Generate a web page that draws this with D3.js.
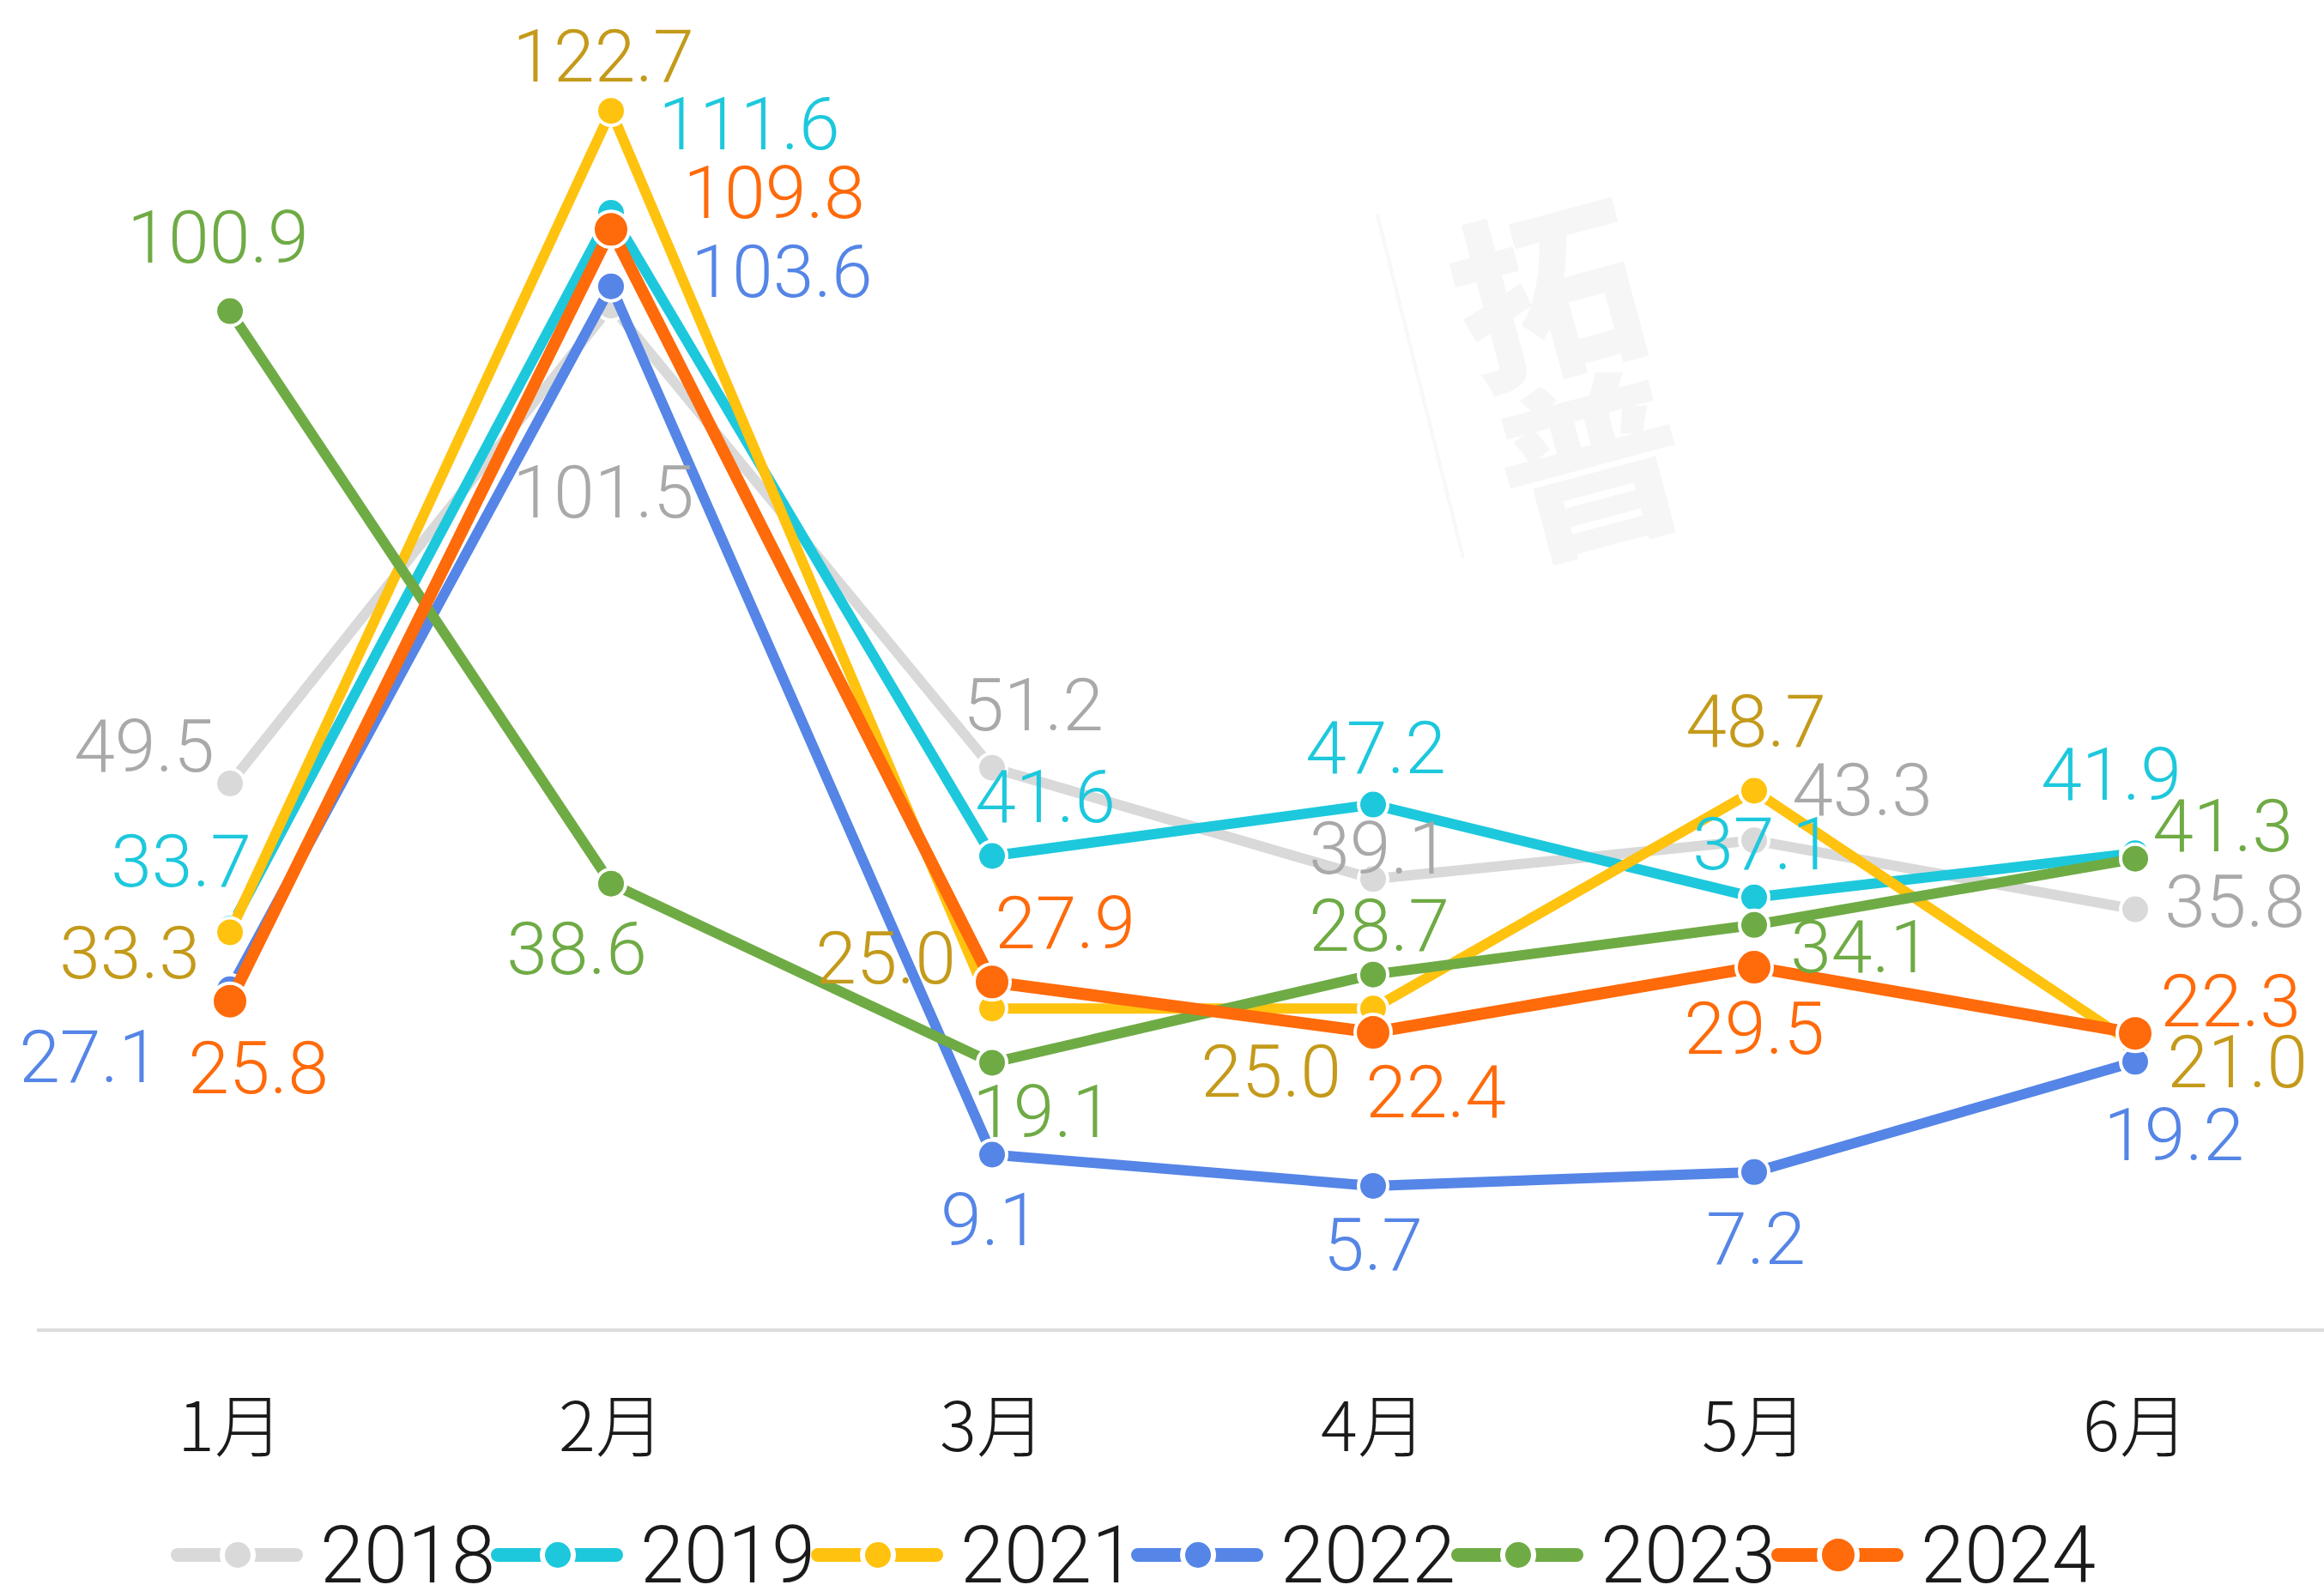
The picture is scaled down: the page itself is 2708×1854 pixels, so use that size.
<!DOCTYPE html>
<html>
<head>
<meta charset="utf-8">
<script src="https://cdn.jsdelivr.net/npm/d3@7"></script>
<style>
  html, body { margin: 0; padding: 0; background: #fff; }
  svg { display: block; }
</style>
</head>
<body>
<svg id="chart" width="2708" height="1854"></svg>
<script>
// data
const months = ["1月", "2月", "3月", "4月", "5月", "6月"];
const years = ["2018", "2019", "2021", "2022", "2023", "2024"];
const v2018 = [49.5, 101.5, 51.2, 39.1, 43.3, 35.8];
const v2019 = [33.7, 111.6, 41.6, 47.2, 37.1, 41.9];
const v2021 = [33.3, 122.7, 25.0, 25.0, 48.7, 21.0];
const v2022 = [27.1, 103.6, 9.1, 5.7, 7.2, 19.2];
const v2023 = [100.9, 38.6, 19.1, 28.7, 34.1, 41.3];
const v2024 = [25.8, 109.8, 27.9, 22.4, 29.5, 22.3];

// styles
const lineColors = ["#d9d9d9", "#1dc8dc", "#ffc20e", "#5585e6", "#6fab45", "#ff6a0a"];
const textColors = ["#a9a9a9", "#1dc8dc", "#c49a1a", "#5585e6", "#6fab45", "#ff6a0a"];
const markerR = [17, 17, 17, 17, 17, 21];
const lineW = [12, 12, 12, 12, 12, 14];

// where each value label sits relative to its point (px)
const labelOffsets = [
  [[-100, -43], [-9, 217], [48, -73], [7, -36], [126, -59], [116, -9]],
  [[-57, -79], [161, -104], [62, -69], [3, -66], [10, -62], [-28, -92]],
  [[-117, 24], [-9, -64], [-124, -59], [-119, 73], [2, -81], [119, 19]],
  [[-164, 79], [199, -17], [-2, 76], [0, 69], [2, 78], [45, 85]],
  [[-14, -86], [-40, 76], [59, 57], [7, -57], [124, 26], [102, -38]],
  [[33, 78], [190, -43], [85, -69], [73, 69], [0, 71], [111, -38]]
];

const seriesValues = [v2018, v2019, v2021, v2022, v2023, v2024];
const series = years.map((name, i) => ({
  name,
  values: seriesValues[i],
  color: lineColors[i],
  text: textColors[i],
  r: markerR[i],
  w: lineW[i],
  offsets: labelOffsets[i]
}));

const width = 2708, height = 1854;
const svg = d3.select("#chart");

const x = d3.scalePoint()
  .domain(months)
  .range([46, 2710])
  .padding(0.5);

const y = d3.scaleLinear()
  .domain([-10, 130])
  .range([1550, 51]);

// faint watermark
const wm = svg.append("g").attr("fill", "#f6f6f6")
  .attr("font-family", "'Noto Sans CJK SC', sans-serif")
  .attr("font-weight", 900)
  .attr("font-size", 215)
  .attr("text-anchor", "middle")
  .attr("dominant-baseline", "central");
wm.append("text").attr("transform", "translate(1800,330) rotate(-15)").text("拓");
wm.append("text").attr("transform", "translate(1852,530) rotate(-15)").text("普");
svg.append("line")
  .attr("x1", 1605).attr("y1", 250).attr("x2", 1705).attr("y2", 650)
  .attr("stroke", "#f8f8f8").attr("stroke-width", 4);

// x axis
const xAxis = d3.axisBottom(x).tickSize(0).tickPadding(0);
const gx = svg.append("g")
  .attr("transform", `translate(0,${y(-10)})`)
  .call(xAxis);
gx.select(".domain").remove();
gx.append("line")
  .attr("x1", 43).attr("x2", width)
  .attr("stroke", "#dcdcdc").attr("stroke-width", 4);
gx.selectAll(".tick text")
  .attr("y", 106)
  .attr("dy", null)
  .attr("dominant-baseline", "central")
  .attr("fill", "#1a1a1a")
  .attr("font-size", 80)
  .attr("font-weight", 300)
  .attr("font-family", "'Noto Sans CJK SC', Roboto, sans-serif");

const line = d3.line()
  .x((d, i) => x(months[i]))
  .y(d => y(d));

const gSeries = svg.append("g").selectAll("g")
  .data(series)
  .join("g");

gSeries.append("path")
  .attr("d", d => line(d.values))
  .attr("fill", "none")
  .attr("stroke", d => d.color)
  .attr("stroke-width", d => d.w)
  .attr("stroke-linejoin", "round");

gSeries.selectAll("circle")
  .data(d => d.values.map((v, i) => ({ v, i, s: d })))
  .join("circle")
  .attr("cx", d => x(months[d.i]))
  .attr("cy", d => y(d.v))
  .attr("r", d => d.s.r)
  .attr("fill", d => d.s.color)
  .attr("stroke", "#fff")
  .attr("stroke-width", 4);

// value labels on top of all lines
svg.append("g")
  .attr("font-family", "Roboto, 'Noto Sans', sans-serif")
  .attr("font-weight", 300)
  .attr("font-size", 86)
  .attr("text-anchor", "middle")
  .selectAll("g")
  .data(series)
  .join("g")
  .attr("fill", d => d.text)
  .selectAll("text")
  .data(d => d.values.map((v, i) => ({ v, i, s: d })))
  .join("text")
  .attr("x", d => x(months[d.i]) + d.s.offsets[d.i][0])
  .attr("y", d => y(d.v) + d.s.offsets[d.i][1])
  .attr("dominant-baseline", "central")
  .text(d => d3.format(".1f")(d.v));

// legend
const legend = svg.append("g").attr("transform", "translate(207,1812)");
const item = legend.selectAll("g")
  .data(series)
  .join("g")
  .attr("transform", (d, i) => `translate(${i * 373},0)`);
item.append("line")
  .attr("x1", 0).attr("x2", 138)
  .attr("stroke", d => d.color)
  .attr("stroke-width", 16)
  .attr("stroke-linecap", "round");
item.append("circle")
  .attr("cx", 70)
  .attr("r", d => d.r + 1)
  .attr("fill", d => d.color)
  .attr("stroke", "#fff")
  .attr("stroke-width", 6);
item.append("text")
  .attr("x", 166)
  .attr("dominant-baseline", "central")
  .attr("fill", "#1a1a1a")
  .attr("font-family", "Roboto, sans-serif")
  .attr("font-weight", 300)
  .attr("font-size", 92)
  .text(d => d.name);
</script>
</body>
</html>
